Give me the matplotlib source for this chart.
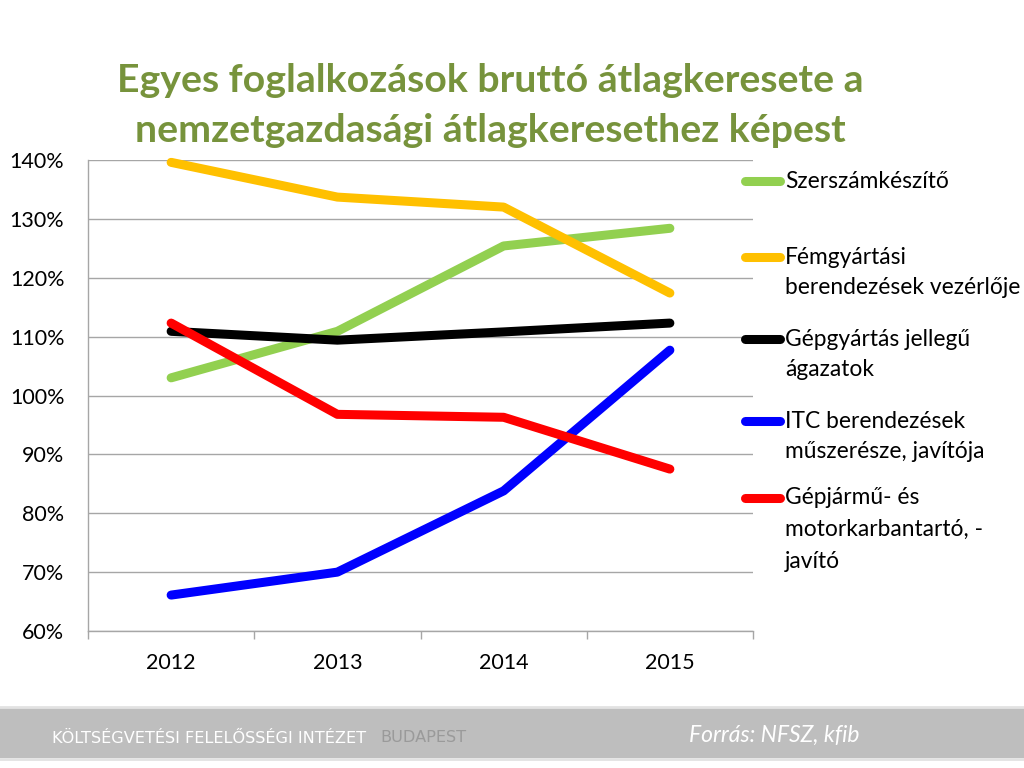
import numpy as np
import matplotlib
matplotlib.use('Agg')
import matplotlib.pyplot as plt
from matplotlib.patches import Rectangle
from matplotlib.lines import Line2D

plt.rcParams['font.family'] = ['Lato', 'DejaVu Sans']

# adatok (becsült értékek, %)
evek = ['2012', '2013', '2014', '2015']
szerszam = [103.0, 110.9, 125.4, 128.4]
femgyartasi = [139.6, 133.7, 132.0, 117.4]
gepgyartas = [110.9, 109.4, 110.8, 112.3]
itc = [66.1, 70.0, 83.8, 107.7]
gepjarmu = [112.3, 96.8, 96.3, 87.5]

sorozatok = [szerszam, femgyartasi, gepgyartas, itc, gepjarmu]
szinek = ['#92D050', '#FFC000', '#000000', '#0000FF', '#FF0000']
cimkek = [['Szerszámkészítő'],
          ['Fémgyártási', 'berendezések vezérlője'],
          ['Gépgyártás jellegű', 'ágazatok'],
          ['ITC berendezések', 'műszerésze, javítója'],
          ['Gépjármű- és', 'motorkarbantartó, -', 'javító']]

W, H = 1024, 768
fig = plt.figure(figsize=(10.24, 7.68), dpi=100)
fig.patch.set_facecolor('white')

ax = fig.add_axes([88 / W, 1 - 631 / H, (753 - 88) / W, (631 - 160) / H])

x = np.arange(len(evek))
for s, c in zip(sorozatok, szinek):
    ax.plot(x, s, color=c, lw=6.5, solid_capstyle='round', solid_joinstyle='round',
            clip_on=False, zorder=3)

ax.set_xlim(-0.5, 3.5)
ax.set_ylim(60, 140)
ax.set_yticks(np.arange(60, 141, 10))
ax.set_yticklabels([f'{v}%' for v in range(60, 141, 10)], fontsize=15.5)
ax.set_xticks(x)
ax.set_xticklabels(evek, fontsize=15.5)
ax.set_xticks(np.arange(-0.5, 3.6, 1), minor=True)
ax.tick_params(axis='x', which='major', length=0, pad=16)
ax.tick_params(axis='x', which='minor', length=6, color='#A6A6A6', width=1)
ax.tick_params(axis='y', length=0, pad=17)
ax.grid(axis='y', color='#A6A6A6', lw=1)
ax.set_axisbelow(True)
for sp in ['top', 'right']:
    ax.spines[sp].set_visible(False)
for sp in ['left', 'bottom']:
    ax.spines[sp].set_color('#A6A6A6')
    ax.spines[sp].set_linewidth(1)

# cím
fig.text(490 / W, 1 - 81 / H, 'Egyes foglalkozások bruttó átlagkeresete a',
         ha='center', va='center', fontsize=28.3, fontweight='bold', color='#77933C')
fig.text(490 / W, 1 - 131 / H, 'nemzetgazdasági átlagkeresethez képest',
         ha='center', va='center', fontsize=28.3, fontweight='bold', color='#77933C')

# jelmagyarázat
leg_y = [[181], [257, 287], [339, 370], [421, 452], [498, 529, 561]]
for c, lab, ys in zip(szinek, cimkek, leg_y):
    fig.add_artist(Line2D([745 / W, 780 / W], [1 - ys[0] / H] * 2, color=c, lw=6.5,
                          solid_capstyle='round'))
    for t, yy in zip(lab, ys):
        fig.text(785 / W, 1 - yy / H, t, ha='left', va='center', fontsize=16.4)

# lábléc
fig.add_artist(Rectangle((0, 1 - 758 / H), 1, 50 / H, facecolor='#BEBEBE',
                         edgecolor='none', transform=fig.transFigure, zorder=0))
fig.add_artist(Line2D([0, 1], [1 - 707 / H] * 2, color='#E2E2E2', lw=2))
fig.add_artist(Line2D([0, 1], [1 - 759 / H] * 2, color='#E2E2E2', lw=2))
fig.text(52 / W, 1 - 738 / H, 'KÖLTSÉGVETÉSI FELELŐSSÉGI INTÉZET', color='white',
         fontsize=11.6, ha='left', va='center', family='DejaVu Sans')
fig.text(380 / W, 1 - 738 / H, 'BUDAPEST', color='#9A9A9A',
         fontsize=11.6, ha='left', va='center', family='DejaVu Sans')
fig.text(774 / W, 1 - 735 / H, 'Forrás: NFSZ, kfib', color='white', fontsize=16.5,
         style='italic', ha='center', va='center')

fig.savefig('out.png', dpi=100, facecolor='white')
